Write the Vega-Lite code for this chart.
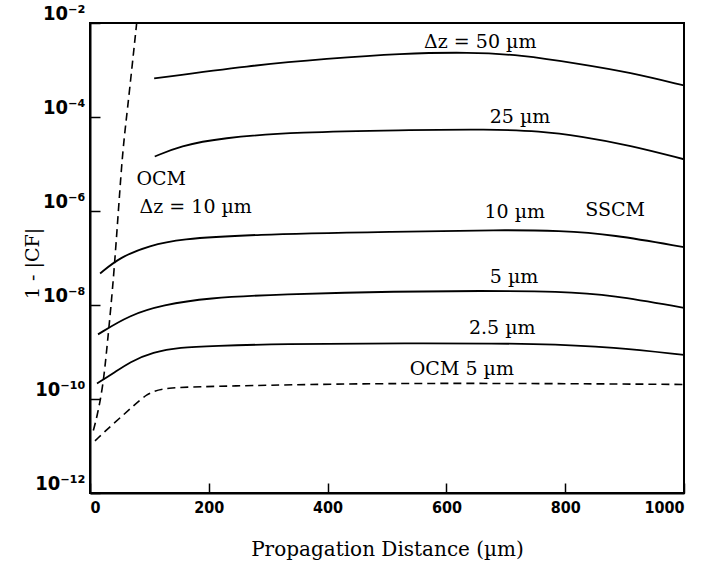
{
  "$schema": "https://vega.github.io/schema/vega-lite/v6.json",
  "width": 594,
  "height": 470,
  "autosize": {"type": "none"},
  "padding": {"left": 90, "top": 23, "right": 18, "bottom": 70},
  "background": "white",
  "config": {
    "view": {"stroke": "black", "strokeWidth": 2},
    "axis": {"domainColor": "black", "domainWidth": 2, "tickColor": "black", "tickWidth": 1.5, "labelColor": "black", "titleColor": "black", "grid": false}
  },
  "datasets": {
    "curves": [
      {"series": "50", "dash": "solid", "x": 108, "y": 6.61e-4},
      {"series": "50", "dash": "solid", "x": 269, "y": 1.245e-3},
      {"series": "50", "dash": "solid", "x": 400, "y": 1.74e-3},
      {"series": "50", "dash": "solid", "x": 522, "y": 2.24e-3},
      {"series": "50", "dash": "solid", "x": 640, "y": 2.40e-3},
      {"series": "50", "dash": "solid", "x": 724, "y": 2.10e-3},
      {"series": "50", "dash": "solid", "x": 825, "y": 1.35e-3},
      {"series": "50", "dash": "solid", "x": 909, "y": 8.91e-4},
      {"series": "50", "dash": "solid", "x": 1000, "y": 4.68e-4},
      {"series": "25", "dash": "solid", "x": 109, "y": 1.445e-5},
      {"series": "25", "dash": "solid", "x": 152, "y": 2.40e-5},
      {"series": "25", "dash": "solid", "x": 219, "y": 3.6e-5},
      {"series": "25", "dash": "solid", "x": 354, "y": 4.79e-5},
      {"series": "25", "dash": "solid", "x": 522, "y": 5.25e-5},
      {"series": "25", "dash": "solid", "x": 673, "y": 5.50e-5},
      {"series": "25", "dash": "solid", "x": 758, "y": 5.01e-5},
      {"series": "25", "dash": "solid", "x": 825, "y": 3.9e-5},
      {"series": "25", "dash": "solid", "x": 909, "y": 2.50e-5},
      {"series": "25", "dash": "solid", "x": 1000, "y": 1.26e-5},
      {"series": "10", "dash": "solid", "x": 17, "y": 4.68e-8},
      {"series": "10", "dash": "solid", "x": 50.5, "y": 1.047e-7},
      {"series": "10", "dash": "solid", "x": 101, "y": 1.86e-7},
      {"series": "10", "dash": "solid", "x": 151.5, "y": 2.51e-7},
      {"series": "10", "dash": "solid", "x": 264, "y": 3.16e-7},
      {"series": "10", "dash": "solid", "x": 522, "y": 3.63e-7},
      {"series": "10", "dash": "solid", "x": 690, "y": 3.98e-7},
      {"series": "10", "dash": "solid", "x": 791, "y": 3.80e-7},
      {"series": "10", "dash": "solid", "x": 880, "y": 3.16e-7},
      {"series": "10", "dash": "solid", "x": 1000, "y": 1.70e-7},
      {"series": "5", "dash": "solid", "x": 13.5, "y": 2.37e-9},
      {"series": "5", "dash": "solid", "x": 67, "y": 6.17e-9},
      {"series": "5", "dash": "solid", "x": 123, "y": 1.0e-8},
      {"series": "5", "dash": "solid", "x": 197, "y": 1.41e-8},
      {"series": "5", "dash": "solid", "x": 320, "y": 1.70e-8},
      {"series": "5", "dash": "solid", "x": 522, "y": 1.95e-8},
      {"series": "5", "dash": "solid", "x": 657, "y": 2.0e-8},
      {"series": "5", "dash": "solid", "x": 791, "y": 1.95e-8},
      {"series": "5", "dash": "solid", "x": 880, "y": 1.62e-8},
      {"series": "5", "dash": "solid", "x": 1000, "y": 8.71e-9},
      {"series": "2.5", "dash": "solid", "x": 11.8, "y": 2.14e-10},
      {"series": "2.5", "dash": "solid", "x": 38.7, "y": 3.47e-10},
      {"series": "2.5", "dash": "solid", "x": 67, "y": 6.17e-10},
      {"series": "2.5", "dash": "solid", "x": 106, "y": 1.0e-9},
      {"series": "2.5", "dash": "solid", "x": 151.5, "y": 1.26e-9},
      {"series": "2.5", "dash": "solid", "x": 207, "y": 1.35e-9},
      {"series": "2.5", "dash": "solid", "x": 320, "y": 1.48e-9},
      {"series": "2.5", "dash": "solid", "x": 522, "y": 1.55e-9},
      {"series": "2.5", "dash": "solid", "x": 769, "y": 1.51e-9},
      {"series": "2.5", "dash": "solid", "x": 880, "y": 1.26e-9},
      {"series": "2.5", "dash": "solid", "x": 1000, "y": 8.71e-10},
      {"series": "OCM5", "dash": "dashed", "x": 8.4, "y": 1.29e-11},
      {"series": "OCM5", "dash": "dashed", "x": 38.7, "y": 2.95e-11},
      {"series": "OCM5", "dash": "dashed", "x": 67, "y": 6.03e-11},
      {"series": "OCM5", "dash": "dashed", "x": 96, "y": 1.33e-10},
      {"series": "OCM5", "dash": "dashed", "x": 125, "y": 1.75e-10},
      {"series": "OCM5", "dash": "dashed", "x": 207, "y": 1.86e-10},
      {"series": "OCM5", "dash": "dashed", "x": 522, "y": 2.24e-10},
      {"series": "OCM5", "dash": "dashed", "x": 1000, "y": 2.04e-10},
      {"series": "OCM10", "dash": "dashed", "x": 5.6, "y": 2.14e-11},
      {"series": "OCM10", "dash": "dashed", "x": 11.8, "y": 4.17e-11},
      {"series": "OCM10", "dash": "dashed", "x": 21.9, "y": 1.86e-10},
      {"series": "OCM10", "dash": "dashed", "x": 28.6, "y": 1.26e-9},
      {"series": "OCM10", "dash": "dashed", "x": 41, "y": 5.0e-8},
      {"series": "OCM10", "dash": "dashed", "x": 54, "y": 1.6e-5},
      {"series": "OCM10", "dash": "dashed", "x": 61.8, "y": 1.0e-4},
      {"series": "OCM10", "dash": "dashed", "x": 78.6, "y": 1.0e-2}
    ],
    "labels": [
      {"x": 657, "y": 3.98e-3, "text": "Δz = 50 µm"},
      {"x": 724, "y": 1.0e-4, "text": "25 µm"},
      {"x": 715, "y": 9.55e-7, "text": "10 µm"},
      {"x": 884, "y": 1.05e-6, "text": "SSCM"},
      {"x": 714, "y": 3.98e-8, "text": "5 µm"},
      {"x": 694, "y": 3.31e-9, "text": "2.5 µm"},
      {"x": 626, "y": 4.37e-10, "text": "OCM  5 µm"},
      {"x": 120, "y": 4.68e-6, "text": "OCM"},
      {"x": 178, "y": 1.23e-6, "text": "Δz = 10 µm"}
    ]
  },
  "layer": [
    {
      "data": {"name": "curves"},
      "transform": [{"filter": "datum.dash == 'solid'"}],
      "mark": {"type": "line", "color": "black", "strokeWidth": 1.8, "interpolate": "basis", "clip": true},
      "encoding": {
        "x": {"field": "x", "type": "quantitative", "scale": {"domain": [0, 1000], "nice": false},
          "axis": {"values": [0, 200, 400, 600, 800, 1000], "format": "d", "tickSize": -10, "labelPadding": 16, "labelFont": "DejaVu Sans Condensed", "labelFontWeight": "bold", "labelFontSize": 16, "title": "Propagation Distance (µm)", "titleFont": "DejaVu Serif", "titleFontSize": 20, "titleFontWeight": "normal", "titlePadding": 24}},
        "y": {"field": "y", "type": "quantitative", "scale": {"type": "log", "domain": [1e-12, 1e-2], "nice": false},
          "axis": {"values": [1e-12, 1e-10, 1e-8, 1e-6, 1e-4, 1e-2], "tickSize": -10, "labelPadding": 15,
            "labelExpr": "datum.value > 1e-3 ? '10⁻²' : datum.value > 1e-5 ? '10⁻⁴' : datum.value > 1e-7 ? '10⁻⁶' : datum.value > 1e-9 ? '10⁻⁸' : datum.value > 1e-11 ? '10⁻¹⁰' : '10⁻¹²'",
            "labelFont": "DejaVu Sans Condensed", "labelFontWeight": "bold", "labelFontSize": 20, "labelBaseline": "bottom",
            "title": "1 - |CF|", "titleFont": "DejaVu Serif", "titleFontSize": 19, "titleFontWeight": "normal", "titleX": -58, "titleY": 240, "titleBaseline": "middle", "titleAlign": "center", "titleAngle": -90}},
        "detail": {"field": "series"}
      }
    },
    {
      "data": {"name": "curves"},
      "transform": [{"filter": "datum.dash == 'dashed'"}],
      "mark": {"type": "line", "color": "black", "strokeWidth": 1.6, "strokeDash": [8, 5], "interpolate": "basis", "clip": true},
      "encoding": {
        "x": {"field": "x", "type": "quantitative"},
        "y": {"field": "y", "type": "quantitative"},
        "detail": {"field": "series"}
      }
    },
    {
      "data": {"name": "labels"},
      "mark": {"type": "text", "font": "DejaVu Serif", "fontSize": 19, "color": "black", "align": "center", "baseline": "middle"},
      "encoding": {
        "x": {"field": "x", "type": "quantitative"},
        "y": {"field": "y", "type": "quantitative"},
        "text": {"field": "text"}
      }
    }
  ]
}
